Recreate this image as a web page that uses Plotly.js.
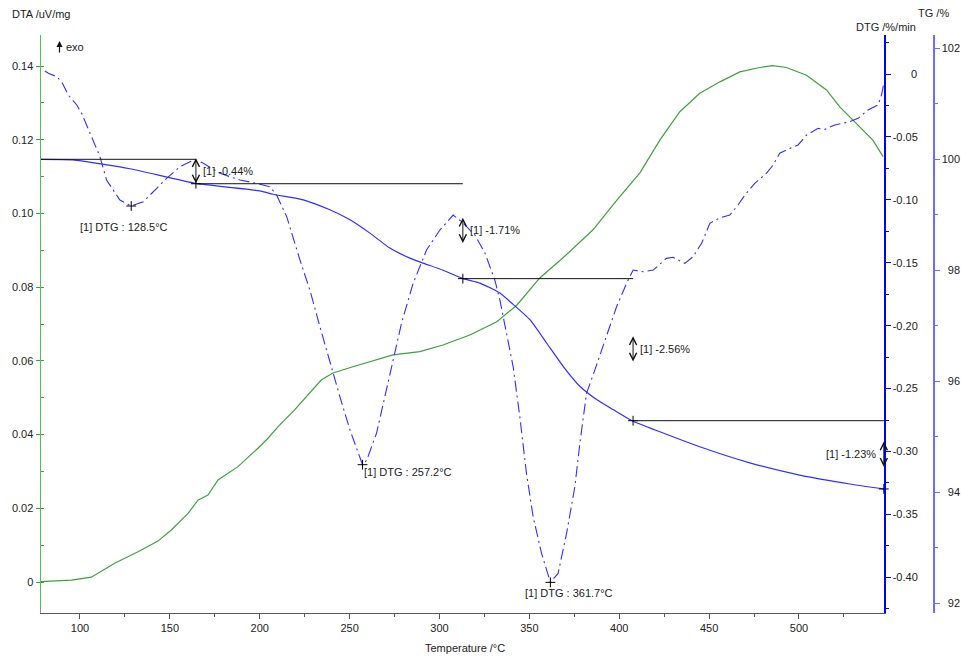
<!DOCTYPE html>
<html><head><meta charset="utf-8">
<script src="https://cdn.plot.ly/plotly-3.0.1.min.js"></script>
<style>html,body{margin:0;padding:0;background:#fff}#chart{width:961px;height:659px}</style>
</head><body><div id="chart"></div>
<script>
// ---- Data ----
// DTA curve (uV/mg) vs temperature (°C)
const dtaTemp = [78.1,95.2,106.3,119.3,132.3,143.4,150.8,160.1,165.6,171.2,176.8,187.9,199.0,204.6,210.1,219.4,234.2,240.7,251.8,274.1,289.1,301.9,316.9,331.9,343.0,355.8,368.6,385.3,398.7,411.5,422.6,433.7,444.8,456.0,467.1,478.2,485.4,493.0,504.2,515.3,522.7,533.8,541.1,546.8];
const dtaValue = [0.0001,0.0005,0.0013,0.0051,0.0082,0.0111,0.0141,0.0186,0.0222,0.0236,0.0277,0.0313,0.0363,0.0390,0.0421,0.0467,0.0548,0.0567,0.0584,0.0616,0.0625,0.0643,0.0670,0.0706,0.0751,0.0825,0.0879,0.0955,0.1036,0.1110,0.1199,0.1276,0.1326,0.1357,0.1384,0.1396,0.1401,0.1396,0.1375,0.1335,0.1289,0.1235,0.1199,0.1154];

// DTG curve (%/min) vs temperature (°C)
const dtgTemp = [80.5,82.4,87.0,89.8,93.5,98.2,100.9,106.5,111.1,114.8,122.2,128.5,135.2,142.7,148.2,155.6,161.2,164.9,168.6,177.9,189.0,198.3,205.7,209.4,215.0,222.4,227.9,233.5,239.0,244.6,250.2,255.7,257.2,259.5,265.0,269.6,274.3,278.9,285.4,292.8,300.2,307.6,312.5,319.7,325.3,330.8,333.6,337.3,341.0,344.7,348.4,352.1,356.8,361.7,366.0,370.7,375.3,378.1,381.8,386.4,392.9,398.5,404.2,407.7,413.3,418.9,426.3,430.0,436.5,441.1,445.8,450.4,456.0,461.5,466.1,469.9,475.4,481.9,485.6,489.3,494.9,499.5,504.2,510.6,514.4,519.9,528.3,532.9,538.4,544.0,545.9,547.2];
const dtgValue = [0.0024,0.0006,-0.0021,-0.0061,-0.0167,-0.0246,-0.0312,-0.0498,-0.0657,-0.0843,-0.1002,-0.1049,-0.1015,-0.0909,-0.0829,-0.0737,-0.0697,-0.0684,-0.0710,-0.0789,-0.0843,-0.0869,-0.0896,-0.0962,-0.1134,-0.1479,-0.1717,-0.2009,-0.2287,-0.2565,-0.2830,-0.3050,-0.3105,-0.3070,-0.2854,-0.2565,-0.2273,-0.1979,-0.1661,-0.1399,-0.1240,-0.1121,-0.1176,-0.1280,-0.1423,-0.1638,-0.1796,-0.2059,-0.2327,-0.2724,-0.3174,-0.3519,-0.3810,-0.4040,-0.3969,-0.3651,-0.3281,-0.2936,-0.2538,-0.2353,-0.2088,-0.1850,-0.1661,-0.1558,-0.1572,-0.1558,-0.1465,-0.1457,-0.1505,-0.1452,-0.1346,-0.1187,-0.1142,-0.1121,-0.1041,-0.0962,-0.0869,-0.0789,-0.0723,-0.0630,-0.0591,-0.0564,-0.0485,-0.0432,-0.0440,-0.0405,-0.0379,-0.0352,-0.0286,-0.0246,-0.0167,-0.0074];

// TG curve (%) vs temperature (°C)
const tgTemp = [78.3,96.1,127.8,164.5,200.1,207.3,224.2,239.0,250.2,261.3,272.4,283.5,290.9,302.0,313.2,322.5,333.6,340.1,350.3,359.6,368.8,378.1,387.4,396.6,407.7,422.6,444.8,472.6,500.4,528.3,547.2];
const tgValue = [100.00,99.99,99.83,99.565,99.43,99.37,99.27,99.09,98.91,98.67,98.40,98.22,98.13,98.00,97.85,97.77,97.59,97.41,97.11,96.69,96.27,95.91,95.67,95.49,95.28,95.09,94.82,94.53,94.31,94.15,94.06];

// DTG peaks
const peakTemp = [128.5, 257.2, 361.7];
const peakDtg = [-0.1049, -0.3105, -0.4040];

// TG mass-loss steps
const stepTemp = [78.3, 164.5, 313.0, 407.7, 547.2];
const stepTg = [100.00, 99.56, 97.85, 95.29, 94.06];
const stepLoss = ['-0.44%', '-1.71%', '-2.56%', '-1.23%'];

// Tick labels
const dtaTicks = [0, 0.02, 0.04, 0.06, 0.08, 0.10, 0.12, 0.14];
const dtaTickText = ['0', '0.02', '0.04', '0.06', '0.08', '0.10', '0.12', '0.14'];
const dtgTicks = [0, -0.05, -0.10, -0.15, -0.20, -0.25, -0.30, -0.35, -0.40];
const dtgTickText = ['0', '-0.05', '-0.10', '-0.15', '-0.20', '-0.25', '-0.30', '-0.35', '-0.40'];
const tgTicks = [92, 94, 96, 98, 100, 102];
const tgTickText = ['92', '94', '96', '98', '100', '102'];

// ---- Styles ----
const FONT = 'Liberation Sans, Arial, Helvetica, sans-serif';
const TXT = '#222';
const GREEN = '#3f9f3f';
const BLUE = '#2f2fff';
const NB = '\u00a0';
function padLeft(arr, width) {
  // right-align labels on right-side axes using non-breaking spaces
  return arr.map(s => {
    const w = s.replace(/[.\-]/g, '').length + (s.match(/[.\-]/g) || []).length * 0.55;
    const pad = Math.max(0, Math.round((width - w) * 2));
    return NB.repeat(pad) + s;
  });
}

const traces = [
  {x: dtaTemp, y: dtaValue, yaxis: 'y', type: 'scatter', mode: 'lines',
   line: {color: GREEN, width: 1.2}, hoverinfo: 'skip'},
  {x: dtgTemp, y: dtgValue, yaxis: 'y2', type: 'scatter', mode: 'lines',
   line: {color: BLUE, width: 1.1, dash: '11px,4px,2px,4px'}, hoverinfo: 'skip'},
  {x: tgTemp, y: tgValue, yaxis: 'y3', type: 'scatter', mode: 'lines',
   line: {color: BLUE, width: 1.2, shape: 'spline', smoothing: 0.5}, hoverinfo: 'skip'},
  {x: peakTemp, y: peakDtg, yaxis: 'y2', type: 'scatter', mode: 'markers', cliponaxis: false,
   marker: {symbol: 'cross-thin', size: 7, line: {width: 1, color: '#000'}}, hoverinfo: 'skip'},
  {x: stepTemp.slice(1), y: stepTg.slice(1), yaxis: 'y3', type: 'scatter', mode: 'markers', cliponaxis: false,
   marker: {symbol: 'cross-thin', size: 7, line: {width: 1, color: '#000'}}, hoverinfo: 'skip'}
];

const shapes = [];
for (let i = 0; i < 4; i++) {
  shapes.push({type: 'line', xref: 'x', yref: 'y3',
    x0: stepTemp[i], x1: stepTemp[i + 1], y0: stepTg[i], y1: stepTg[i],
    line: {color: '#111', width: 1}, layer: 'above'});
}

const annotations = [];
// double-headed arrows and mass-loss labels
const half = 0.24;
for (let i = 0; i < 4; i++) {
  const mid = (stepTg[i] + stepTg[i + 1]) / 2;
  const xa = stepTemp[i + 1];
  annotations.push({x: xa, y: mid + half, xref: 'x', yref: 'y3',
    ax: xa, ay: mid - half, axref: 'x', ayref: 'y3',
    showarrow: true, text: '', arrowhead: 5, startarrowhead: 5, arrowside: 'end+start',
    arrowsize: 1.4, startarrowsize: 1.4, arrowwidth: 1, arrowcolor: '#111', standoff: 0, startstandoff: 0});
  const last = (i === 3);
  annotations.push({x: xa, y: mid, xref: 'x', yref: 'y3', showarrow: false,
    text: '[1] ' + stepLoss[i], xanchor: last ? 'right' : 'left', yanchor: 'middle',
    xshift: last ? -6 : 5, yshift: 1, font: {family: FONT, size: 11, color: TXT}});
}
// DTG peak labels
const peakShift = [[-53, -21], [-1, -7], [-27, -11]];
for (let i = 0; i < 3; i++) {
  annotations.push({x: peakTemp[i], y: peakDtg[i], xref: 'x', yref: 'y2', showarrow: false,
    text: '[1] DTG : ' + peakTemp[i].toFixed(1) + '°C', xanchor: 'left', yanchor: 'middle',
    xshift: peakShift[i][0], yshift: peakShift[i][1], font: {family: FONT, size: 11, color: TXT}});
}
// axis titles / notes (paper coords)
const px2x = px => (px - 41) / 892;
const py2y = py => (613 - py) / 578;
function paperNote(text, px, py, anchor) {
  annotations.push({xref: 'paper', yref: 'paper', x: px2x(px), y: py2y(py),
    text: text, showarrow: false, xanchor: anchor || 'left', yanchor: 'middle',
    font: {family: FONT, size: 11, color: TXT}});
}
paperNote('DTA /uV/mg', 10, 14);
paperNote('TG /%', 916, 13);
paperNote('DTG /%/min', 854, 27);
paperNote('Temperature /°C', 423, 648);
paperNote('exo', 64, 47);
// "exo" direction arrow
annotations.push({xref: 'paper', yref: 'paper', x: px2x(59.5), y: py2y(41),
  ax: 0, ay: 13, showarrow: true, text: '', arrowhead: 2, arrowsize: 1, arrowwidth: 1.2,
  arrowcolor: '#111', standoff: 0});

const layout = {
  width: 961, height: 659,
  margin: {l: 41, r: 28, t: 35, b: 46, pad: 0},
  paper_bgcolor: '#fff', plot_bgcolor: '#fff',
  showlegend: false, hovermode: false,
  font: {family: FONT, size: 11, color: TXT},
  xaxis: {domain: [0, 843 / 892], range: [78.31, 547.3], showgrid: false, zeroline: false,
    showline: true, linecolor: '#555', linewidth: 1, mirror: false,
    tickmode: 'linear', tick0: 0, dtick: 50, ticks: 'outside', ticklen: 5, tickcolor: '#555',
    minor: {dtick: 25, tick0: 0, ticks: 'outside', ticklen: 3, tickcolor: '#555'},
    tickfont: {family: FONT, size: 11, color: TXT}},
  yaxis: {range: [-0.00841, 0.14841], showgrid: false, zeroline: false,
    showline: true, linecolor: '#5cb85c', linewidth: 1.5,
    tickmode: 'array', tickvals: dtaTicks, ticktext: dtaTickText,
    ticks: 'outside', ticklen: 4, tickcolor: '#3f9f3f',
    minor: {dtick: 0.01, tick0: 0, ticks: 'inside', ticklen: 3, tickcolor: '#3f9f3f'},
    tickfont: {family: FONT, size: 11, color: TXT}},
  yaxis2: {overlaying: 'y', side: 'right', anchor: 'x', range: [-0.42837, 0.031],
    showgrid: false, zeroline: false, showline: true, linecolor: '#0000ff', linewidth: 1.5,
    tickmode: 'array', tickvals: dtgTicks, ticktext: padLeft(dtgTickText, 4.1),
    ticks: 'outside', ticklen: 5, tickcolor: '#0000ff',
    minor: {dtick: 0.025, tick0: 0, ticks: 'outside', ticklen: 3, tickcolor: '#0000ff'},
    tickfont: {family: FONT, size: 11, color: TXT}},
  yaxis3: {overlaying: 'y', side: 'right', anchor: 'free', position: 1, range: [91.825, 102.24],
    showgrid: false, zeroline: false, showline: true, linecolor: '#6b6bff', linewidth: 1.5,
    tickmode: 'array', tickvals: tgTicks, ticktext: padLeft(tgTickText, 3),
    ticks: 'outside', ticklen: 5, tickcolor: '#6b6bff',
    minor: {dtick: 1, tick0: 0, ticks: 'outside', ticklen: 3, tickcolor: '#6b6bff'},
    tickfont: {family: FONT, size: 11, color: TXT}},
  shapes: shapes,
  annotations: annotations
};

Plotly.newPlot('chart', traces, layout, {staticPlot: true, displayModeBar: false});
</script>
</body></html>
